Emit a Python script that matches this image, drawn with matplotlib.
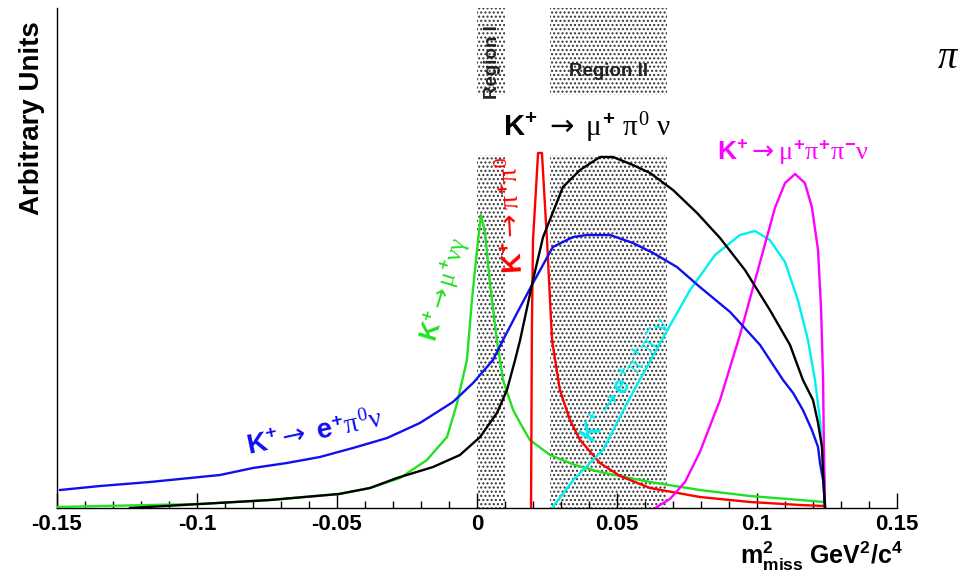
import matplotlib
matplotlib.use('Agg')
import matplotlib.pyplot as plt
from matplotlib.patches import Rectangle
import matplotlib.ticker as mticker

plt.rcParams['mathtext.fontset'] = 'custom'
plt.rcParams['mathtext.rm'] = 'Liberation Serif'
plt.rcParams['mathtext.it'] = 'Liberation Serif'
plt.rcParams['mathtext.bf'] = 'Liberation Sans:bold'
plt.rcParams['mathtext.sf'] = 'DejaVu Sans'
plt.rcParams['font.family'] = ['Liberation Sans', 'DejaVu Sans']
plt.rcParams['hatch.linewidth'] = 1.0

# ---------------- data (m2_miss in GeV^2/c^4, arbitrary units) ----------------
black_x = [-0.1239, -0.0989, -0.0739, -0.0493, -0.0382, -0.0286, -0.0157, -0.0061, 0.0011, 0.0071,
           0.0107, 0.0136, 0.0154, 0.0200, 0.0236, 0.0307, 0.0368, 0.0439, 0.0486, 0.0557,
           0.0618, 0.0700, 0.0786, 0.0868, 0.0957, 0.1046, 0.1118, 0.1164, 0.1200, 0.1218,
           0.1232, 0.1236, 0.1243]
black_y = [0, 4, 8, 14, 20, 30, 41, 53, 71, 95,
           118, 148, 168, 228, 271, 321, 338, 351, 351, 343,
           335, 318, 295, 270, 238, 198, 163, 128, 108, 85,
           61, 35, 0]

blue_x = [-0.1489, -0.1346, -0.1168, -0.0918, -0.0800, -0.0679, -0.0561, -0.0443, -0.0321, -0.0204,
          -0.0086, -0.0014, 0.0057, 0.0093, 0.0143, 0.0200, 0.0271, 0.0343, 0.0393, 0.0475,
          0.0557, 0.0629, 0.0714, 0.0796, 0.0904, 0.1011, 0.1093, 0.1129, 0.1164, 0.1196,
          0.1218, 0.1225, 0.1236, 0.1243]
blue_y = [18, 22, 26, 33, 40, 45, 51, 60, 70, 85,
          106, 125, 148, 168, 195, 225, 261, 271, 273, 273,
          265, 255, 241, 221, 196, 163, 128, 115, 98, 78,
          61, 45, 28, 0]

green_x = [-0.1496, -0.1168, -0.0989, -0.0739, -0.0493, -0.0382, -0.0275, -0.0179, -0.0107, -0.0071,
           -0.0050, -0.0036, -0.0018, 0.0000, 0.0014, 0.0029, 0.0046, 0.0071, 0.0082, 0.0093,
           0.0129, 0.0154, 0.0189, 0.0261, 0.0350, 0.0439, 0.0618, 0.0796, 0.0975, 0.1154,
           0.1240, 0.1243]
green_y = [1, 3, 4, 8, 14, 20, 30, 48, 71, 105,
           131, 148, 208, 258, 293, 275, 225, 168, 148, 128,
           98, 85, 68, 53, 43, 36, 26, 18, 12, 8,
           6, 0]

red_x = [0.0193, 0.0196, 0.0200, 0.0214, 0.0218, 0.0232, 0.0236, 0.0250, 0.0268, 0.0296,
         0.0332, 0.0368, 0.0439, 0.0511, 0.0618, 0.0796, 0.0975, 0.1154, 0.1240, 0.1243]
red_y = [0, 178, 268, 335, 355, 355, 335, 268, 168, 118,
         88, 68, 45, 32, 20, 11, 6, 3, 2, 0]

cyan_x = [0.0268, 0.0350, 0.0450, 0.0536, 0.0654, 0.0761, 0.0850, 0.0939, 0.0993, 0.1046,
          0.1100, 0.1146, 0.1182, 0.1207, 0.1225, 0.1239, 0.1243]
cyan_y = [0, 30, 58, 105, 165, 218, 253, 273, 277, 268,
          246, 208, 168, 128, 88, 38, 0]

magenta_x = [0.0636, 0.0689, 0.0743, 0.0796, 0.0868, 0.0939, 0.1011, 0.1064, 0.1100, 0.1136,
             0.1171, 0.1196, 0.1218, 0.1229, 0.1236, 0.1239, 0.1243]
magenta_y = [0, 9, 26, 56, 108, 173, 246, 300, 325, 334,
             325, 301, 258, 198, 128, 58, 0]

region_I = (0.0, 0.01)
region_II = (0.026, 0.068)

xticks = [-0.15, -0.10, -0.05, 0.0, 0.05, 0.10, 0.15]
xtick_labels = ['-0.15', '-0.1', '-0.05', '0', '0.05', '0.1', '0.15']

# ---------------- figure ----------------
W, H = 958, 574
fig = plt.figure(figsize=(W / 100, H / 100), dpi=100)
ax = fig.add_axes([57 / W, 1 - 508 / H, 840 / W, 500 / H])
ax.set_xlim(-0.15, 0.15)
ax.set_ylim(0, 500)

# shaded regions (lower band and upper boxes)
for (a, b) in (region_I, region_II):
    for (y0, y1) in ((0, 353), (413, 500)):
        ax.add_patch(Rectangle((a, y0), b - a, y1 - y0, facecolor='white',
                               edgecolor='#333333', hatch='....', lw=0, zorder=0))

ax.text(sum(region_II) / 2, 436, 'Region II', ha='center', va='center',
        fontsize=13.5, fontweight='bold', color='#222222', zorder=1)
ax.text(0.0057, 446, 'Region I', ha='center', va='center', rotation=90,
        fontsize=13.5, fontweight='bold', color='#222222', zorder=1)

lw = 1.7
ax.plot(green_x, green_y, color='#22e022', lw=lw, zorder=3)
ax.plot(red_x, red_y, color='#ff0000', lw=lw, zorder=3)
ax.plot(cyan_x, cyan_y, color='#00f0f0', lw=lw, zorder=3)
ax.plot(magenta_x, magenta_y, color='#ff00ff', lw=lw, zorder=3)
ax.plot(blue_x, blue_y, color='#1010ee', lw=lw, zorder=4)
ax.plot(black_x, black_y, color='black', lw=lw, zorder=5)

AR = r'\mathsf{\rightarrow}'
# labels
ax.text(0.0393, 380, r'$\mathbf{K^{+}}\ ' + AR + r'\ \mu^{\mathbf{+}}\ \pi^{0}\ \nu$',
        color='black', fontsize=21, ha='center', va='center', zorder=6)
ax.text(0.1129, 356, r'$\mathbf{K^{+}}' + AR + r'\mu^{\mathbf{+}}\pi^{\mathbf{+}}\pi^{\mathbf{-}}\nu$',
        color='#ff00ff', fontsize=19, ha='center', va='center', zorder=6)
ax.text(-0.0579, 75, r'$\mathbf{K^{+}}' + AR + r'\ \mathbf{e}^{\mathbf{+}}\pi^{0}\nu$',
        color='#1010ee', fontsize=20, ha='center', va='center', rotation=12, zorder=6)
ax.text(-0.0114, 218, r'$\mathbf{K^{+}}' + AR + r'\mu^{\mathbf{+}}\nu\gamma$',
        color='#22e022', fontsize=18, ha='center', va='center', rotation=73, zorder=6)
ax.text(0.0125, 293, r'$\mathbf{K^{+}}' + AR + r'\pi^{\mathbf{+}}\pi^{0}$',
        color='#ff0000', fontsize=20, ha='center', va='center', rotation=93, zorder=6)
ax.text(0.0536, 128, r'$\mathbf{K^{+}}' + AR + r'\mathbf{e}^{\mathbf{+}}\pi^{\mathbf{+}}\pi^{\mathbf{-}}\nu$',
        color='#00f0f0', fontsize=18, ha='center', va='center', rotation=57, zorder=6)

# axes styling
for s in ('top', 'right'):
    ax.spines[s].set_visible(False)
ax.spines['left'].set_linewidth(1.0)
ax.spines['bottom'].set_linewidth(1.0)
ax.set_yticks([])
ax.set_xticks(xticks)
ax.set_xticklabels(xtick_labels)
ax.xaxis.set_minor_locator(mticker.MultipleLocator(0.01))
ax.tick_params(axis='x', which='major', direction='in', length=11, width=1.0, pad=4)
ax.tick_params(axis='x', which='minor', direction='in', length=5, width=1.0)
for lab in ax.get_xticklabels():
    lab.set_fontsize(16)
    lab.set_fontweight('bold')

fig.text(32 / W, 1 - 118 / H, 'Arbitrary Units', rotation=90, ha='center', va='center',
         fontsize=20, fontweight='bold')
fig.text(903 / W, 1 - 556 / H, r'$\mathbf{m^{2}_{miss}}\ \mathbf{GeV^{2}/c^{4}}$',
         ha='right', va='center', fontsize=18)
fig.text(938 / W, 1 - 58 / H, 'π', ha='left', va='center', fontsize=28,
         family='Liberation Serif', style='italic', color='black')

fig.savefig('out.png', dpi=100)
